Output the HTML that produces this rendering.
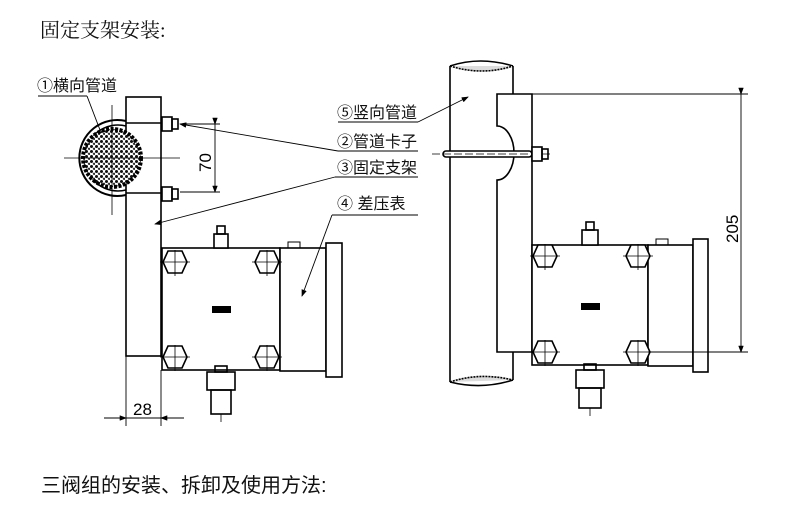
<!DOCTYPE html>
<html><head><meta charset="utf-8"><style>
html,body{margin:0;padding:0;background:#fff;}
svg{display:block;}
.t{font-family:"Liberation Sans","Noto Sans CJK SC",sans-serif;}
</style></head><body>
<svg width="790" height="532" viewBox="0 0 790 532" xmlns="http://www.w3.org/2000/svg">
<defs>
<pattern id="sp" width="5" height="5" patternUnits="userSpaceOnUse">
<rect width="5" height="5" fill="#fff"/><circle cx="1.5" cy="1.5" r="1.5" fill="#111"/><circle cx="4" cy="3.8" r="1.2" fill="#333"/>
</pattern>
<marker id="ar" markerWidth="8" markerHeight="6" refX="7" refY="3" orient="auto"><path d="M0,0 L8,3 L0,6 z" fill="#000"/></marker>
</defs>
<text x="40" y="37" font-size="20" font-family="'Liberation Serif','Noto Serif CJK SC',serif" fill="#111">固定支架安装:</text>
<text x="41" y="492" font-size="20" class="t" fill="#111">三阀组的安装、拆卸及使用方法:</text>

<g fill="none" stroke="#000" stroke-width="1.6">
<!-- LEFT -->
<rect x="126" y="97" width="35" height="259" fill="#fff"/>
<path d="M126,121 A38,38 0 1 0 126,195" stroke-width="2"/>
<path d="M126,126 A33,33 0 1 0 126,190" />
<circle cx="112" cy="158" r="29" fill="url(#sp)" stroke-width="4" stroke-dasharray="3,1.5"/>
<line x1="126" y1="123" x2="162" y2="123"/><line x1="126" y1="193" x2="162" y2="193"/>
<rect x="162" y="117" width="10" height="14" fill="#fff"/><rect x="172" y="119" width="6" height="10"/>
<rect x="162" y="187" width="10" height="14" fill="#fff"/><rect x="172" y="189" width="6" height="10"/>
<g stroke-width="0.8"><line x1="64" y1="158" x2="180" y2="158"/><line x1="112" y1="105" x2="112" y2="215"/></g>
<g stroke-width="0.9">
<line x1="180" y1="124" x2="220" y2="124"/><line x1="180" y1="192" x2="220" y2="192"/>
<line x1="215" y1="124" x2="215" y2="192" marker-start="url(#ar)" marker-end="url(#ar)"/>
</g>
<rect x="162" y="248" width="118" height="122" fill="#fff"/>
<rect x="280" y="248" width="46" height="123" fill="#fff"/>
<rect x="326" y="243" width="16" height="134" fill="#fff"/>
<rect x="288" y="242" width="12" height="6" stroke-width="1"/>
<rect x="214" y="234" width="14" height="14" fill="#fff"/><rect x="217" y="226" width="8" height="8"/>
<rect x="207" y="372" width="28" height="18" fill="#fff"/><rect x="211" y="390" width="20" height="24"/><rect x="215" y="366" width="12" height="6"/>
<line x1="221" y1="414" x2="221" y2="422" stroke-width="0.8"/>
<rect x="212" y="306" width="19" height="7" fill="#000" stroke="none"/>
<g id="hb">
<polygon points="163,262 168,251 182,251 187,262 182,273 168,273" fill="#fff"/>
<line x1="160" y1="262" x2="190" y2="262" stroke-width="0.8"/><line x1="175" y1="250" x2="175" y2="276" stroke-width="0.8"/>
</g>
<use href="#hb" x="92"/><use href="#hb" y="95"/><use href="#hb" x="92" y="95"/>
<g stroke-width="0.9">
<line x1="126" y1="356" x2="126" y2="426"/><line x1="161" y1="370" x2="161" y2="426"/>
<line x1="104" y1="418" x2="126" y2="418" marker-end="url(#ar)"/><line x1="184" y1="418" x2="161" y2="418" marker-end="url(#ar)"/>
<line x1="126" y1="418" x2="161" y2="418"/>
</g>
<g stroke-width="0.9">
<line x1="38" y1="96" x2="87" y2="96"/><line x1="87" y1="96" x2="100" y2="130"/>
<line x1="338" y1="151" x2="418" y2="151"/><line x1="338" y1="151" x2="180" y2="124" marker-end="url(#ar)"/>
<line x1="335" y1="177" x2="418" y2="177"/><line x1="335" y1="177" x2="155" y2="224" marker-end="url(#ar)"/>
<line x1="332" y1="215" x2="418" y2="215"/><line x1="332" y1="215" x2="302" y2="296" marker-end="url(#ar)"/>
<line x1="338" y1="122" x2="418" y2="122"/><line x1="418" y1="122" x2="468" y2="97" marker-end="url(#ar)"/>
</g>

<!-- RIGHT -->
<path d="M450,66 L450,382 M513,66 L513,94 M513,352 L513,380" />
<path d="M450,66 Q480,56 513,66" /><path d="M450,66 Q482,76 513,66" fill="#ddd" stroke-dasharray="2,1"/>
<path d="M450,382 Q480,372 513,380" fill="#ddd" stroke-dasharray="2,1"/><path d="M450,382 Q482,390 513,380"/>
<path d="M497,94 L532,94 L532,352 L497,352 L497,180 A17,27 0 0 0 497,126 Z" fill="#fff"/>
<rect x="443" y="151" width="89" height="6" rx="3" fill="#fff"/>
<line x1="432" y1="154" x2="550" y2="154" stroke-width="0.8" stroke-dasharray="8,3"/>
<rect x="532" y="147" width="10" height="14" fill="#fff"/><rect x="542" y="149" width="6" height="10"/>
<rect x="532" y="245" width="116" height="120" fill="#fff"/>
<rect x="648" y="245" width="45" height="121" fill="#fff"/>
<rect x="693" y="239" width="15" height="133" fill="#fff"/>
<rect x="656" y="239" width="12" height="6" stroke-width="1"/>
<rect x="582" y="230" width="16" height="15" fill="#fff"/><rect x="586" y="222" width="8" height="8"/>
<rect x="576" y="370" width="28" height="18" fill="#fff"/><rect x="579" y="388" width="22" height="20"/><rect x="584" y="364" width="12" height="6"/>
<line x1="590" y1="408" x2="590" y2="416" stroke-width="0.8"/>
<rect x="581" y="303" width="19" height="7" fill="#000" stroke="none"/>
<use href="#hb" x="370" y="-6"/><use href="#hb" x="463" y="-6"/><use href="#hb" x="370" y="90"/><use href="#hb" x="463" y="90"/>
<g stroke-width="0.9">
<line x1="532" y1="94" x2="748" y2="94"/><line x1="648" y1="352" x2="748" y2="352"/>
<line x1="741" y1="94" x2="741" y2="352" marker-start="url(#ar)" marker-end="url(#ar)"/>
</g>
</g>
<text x="0" y="0" font-size="17" class="t" transform="translate(211,172) rotate(-90)">70</text>
<text x="0" y="0" font-size="17" class="t" transform="translate(738,243) rotate(-90)">205</text>
<text x="133" y="415" font-size="17" class="t">28</text>
<g font-size="16" class="t" fill="#111">
<text x="37" y="91">①横向管道</text>
<text x="337" y="118">⑤竖向管道</text>
<text x="337" y="147">②管道卡子</text>
<text x="337" y="173">③固定支架</text>
<text x="337" y="209">④ 差压表</text>
</g>
</svg>
</body></html>
